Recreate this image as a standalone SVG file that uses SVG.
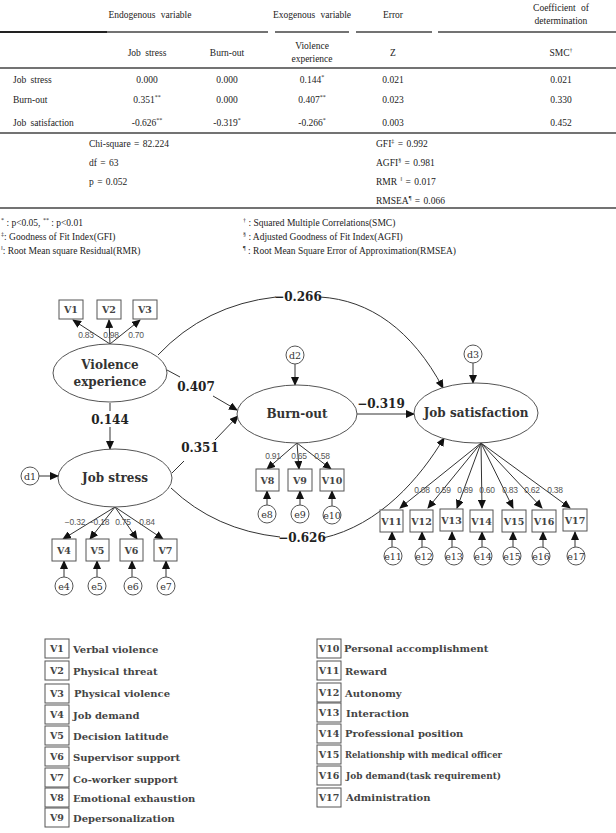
<svg xmlns="http://www.w3.org/2000/svg" width="616" height="833" viewBox="0 0 616 833">
<style>
.t{font-family:"Liberation Serif",serif;font-size:9.5px;fill:#222}
.m{text-anchor:middle}
.sup{font-size:6px}
.hl{stroke:#444;stroke-width:1.5;fill:none}
.lat{fill:#fff;stroke:#555;stroke-width:1}
.latt{font-family:"DejaVu Serif",serif;font-size:12px;font-weight:bold;fill:#333;text-anchor:middle}
.box{fill:#fff;stroke:#555;stroke-width:1}
.bt{font-family:"DejaVu Serif",serif;font-size:9.5px;font-weight:bold;fill:#444;text-anchor:middle}
.err{fill:#fff;stroke:#555;stroke-width:1}
.et{font-family:"DejaVu Serif",serif;font-size:9.5px;fill:#333;text-anchor:middle}
.ld{font-family:"Liberation Sans",sans-serif;font-size:8.5px;fill:#555;text-anchor:middle;letter-spacing:-0.2px}
.pc{font-family:"DejaVu Serif",serif;font-size:12px;font-weight:bold;fill:#222}
.c{stroke:#333;stroke-width:1;fill:none}
.a{marker-end:url(#ah)}
.lg{font-family:"DejaVu Serif",serif;font-size:10px;font-weight:bold;fill:#444}
</style>
<defs>
<marker id="ah" markerUnits="userSpaceOnUse" markerWidth="9" markerHeight="8" refX="8" refY="4" orient="auto">
<path d="M0,0 L9,4 L0,8 z" fill="#111"/>
</marker>
</defs>
<rect width="616" height="833" fill="#fff"/>

<g id="table">
<text class="t m" x="150" y="18" word-spacing="3">Endogenous variable</text>
<text class="t m" x="312" y="18" word-spacing="3">Exogenous variable</text>
<text class="t m" x="393" y="18">Error</text>
<text class="t m" x="561" y="11" word-spacing="3">Coefficient of</text>
<text class="t m" x="561" y="24">determination</text>
<line x1="0" y1="32" x2="107" y2="32" stroke="#222" stroke-width="2"/>
<line x1="107" y1="32" x2="268" y2="32" class="hl"/>
<line x1="275" y1="32" x2="349" y2="32" class="hl"/>
<line x1="356" y1="32" x2="432" y2="32" class="hl"/>
<line x1="438" y1="32" x2="616" y2="32" class="hl"/>
<text class="t m" x="147" y="56" word-spacing="2">Job stress</text>
<text class="t m" x="227" y="56">Burn-out</text>
<text class="t m" x="312" y="49">Violence</text>
<text class="t m" x="312" y="62">experience</text>
<text class="t m" x="393" y="56">Z</text>
<text class="t m" x="561" y="56">SMC<tspan class="sup" dy="-4">†</tspan></text>
<line x1="0" y1="68" x2="616" y2="68" class="hl"/>
<text class="t" x="13" y="83" word-spacing="2">Job stress</text>
<text class="t m" x="147" y="83">0.000</text>
<text class="t m" x="227" y="83">0.000</text>
<text class="t m" x="312" y="83">0.144<tspan class="sup" dy="-4">*</tspan></text>
<text class="t m" x="393" y="83">0.021</text>
<text class="t m" x="561" y="83">0.021</text>
<text class="t" x="13" y="103">Burn-out</text>
<text class="t m" x="147" y="103">0.351<tspan class="sup" dy="-4">**</tspan></text>
<text class="t m" x="227" y="103">0.000</text>
<text class="t m" x="312" y="103">0.407<tspan class="sup" dy="-4">**</tspan></text>
<text class="t m" x="393" y="103">0.023</text>
<text class="t m" x="561" y="103">0.330</text>
<text class="t" x="13" y="126" word-spacing="2">Job satisfaction</text>
<text class="t m" x="147" y="126">-0.626<tspan class="sup" dy="-4">**</tspan></text>
<text class="t m" x="227" y="126">-0.319<tspan class="sup" dy="-4">*</tspan></text>
<text class="t m" x="312" y="126">-0.266<tspan class="sup" dy="-4">*</tspan></text>
<text class="t m" x="393" y="126">0.003</text>
<text class="t m" x="561" y="126">0.452</text>
<line x1="0" y1="133" x2="616" y2="133" class="hl"/>
<text class="t" x="89" y="147" word-spacing="1">Chi-square = 82.224</text>
<text class="t" x="89" y="166" word-spacing="1">df = 63</text>
<text class="t" x="89" y="185" word-spacing="1">p = 0.052</text>
<text class="t" x="376" y="147" word-spacing="1">GFI<tspan class="sup" dy="-4">‡</tspan><tspan dy="4"> = 0.992</tspan></text>
<text class="t" x="376" y="166" word-spacing="1">AGFI<tspan class="sup" dy="-4">§</tspan><tspan dy="4"> = 0.981</tspan></text>
<text class="t" x="376" y="185" word-spacing="1">RMR <tspan class="sup" dy="-4">‖</tspan><tspan dy="4"> = 0.017</tspan></text>
<text class="t" x="376" y="204" word-spacing="1">RMSEA<tspan class="sup" dy="-4">¶</tspan><tspan dy="4"> = 0.066</tspan></text>
<line x1="0" y1="208" x2="616" y2="208" class="hl"/>
<text class="t" x="1" y="226"><tspan class="sup" dy="-4">*</tspan><tspan dy="4"> : p&lt;0.05,  </tspan><tspan class="sup" dy="-4">**</tspan><tspan dy="4"> : p&lt;0.01</tspan></text>
<text class="t" x="1" y="240"><tspan class="sup" dy="-4">‡</tspan><tspan dy="4">: Goodness of Fit Index(GFI)</tspan></text>
<text class="t" x="1" y="254"><tspan class="sup" dy="-4">‖</tspan><tspan dy="4">: Root Mean square Residual(RMR)</tspan></text>
<text class="t" x="243" y="226"><tspan class="sup" dy="-4">†</tspan><tspan dy="4"> : Squared Multiple Correlations(SMC)</tspan></text>
<text class="t" x="243" y="240"><tspan class="sup" dy="-4">§</tspan><tspan dy="4"> : Adjusted Goodness of Fit Index(AGFI)</tspan></text>
<text class="t" x="243" y="254"><tspan class="sup" dy="-4">¶</tspan><tspan dy="4"> : Root Mean Square Error of Approximation(RMSEA)</tspan></text>
</g>

<g id="connectors">
<line class="c a" x1="110" y1="344" x2="73" y2="320"/>
<line class="c a" x1="110" y1="344" x2="109" y2="320"/>
<line class="c a" x1="110" y1="344" x2="140" y2="320"/>
<line class="c a" x1="295" y1="364" x2="295" y2="385"/>
<line class="c a" x1="473" y1="363" x2="473" y2="383"/>
<line class="c a" x1="39" y1="476" x2="58" y2="476"/>
<line class="c" x1="167" y1="370" x2="180" y2="377"/>
<line class="c a" x1="213" y1="396" x2="237" y2="410"/>
<line class="c" x1="110" y1="403" x2="110" y2="411"/>
<line class="c a" x1="110" y1="427" x2="110" y2="449"/>
<line class="c" x1="172" y1="473" x2="184" y2="461"/>
<line class="c a" x1="215" y1="440" x2="238" y2="416"/>
<line class="c a" x1="357" y1="414" x2="414" y2="414"/>
<path class="c" d="M158,355 Q205,305 276,297"/>
<path class="c a" d="M320,297 C370,300 412,330 443,388"/>
<path class="c" d="M171,488 Q215,530 280,537"/>
<path class="c a" d="M323,538 C380,525 420,478 444,438"/>
<line class="c a" x1="115" y1="507" x2="63" y2="539"/>
<line class="c a" x1="115" y1="507" x2="90" y2="539"/>
<line class="c a" x1="115" y1="507" x2="137" y2="539"/>
<line class="c a" x1="115" y1="507" x2="163" y2="539"/>
<line class="c a" x1="64" y1="577" x2="64" y2="561"/>
<line class="c a" x1="97" y1="577" x2="97" y2="561"/>
<line class="c a" x1="132" y1="577" x2="132" y2="561"/>
<line class="c a" x1="166" y1="577" x2="166" y2="561"/>
<line class="c a" x1="297" y1="443" x2="267" y2="469"/>
<line class="c a" x1="297" y1="443" x2="299" y2="469"/>
<line class="c a" x1="297" y1="443" x2="331" y2="469"/>
<line class="c a" x1="267" y1="505" x2="267" y2="491"/>
<line class="c a" x1="300" y1="505" x2="300" y2="491"/>
<line class="c a" x1="332" y1="506" x2="332" y2="491"/>
<line class="c a" x1="481" y1="443" x2="400" y2="508"/>
<line class="c a" x1="481" y1="443" x2="428" y2="508"/>
<line class="c a" x1="481" y1="443" x2="457" y2="508"/>
<line class="c a" x1="481" y1="443" x2="482" y2="508"/>
<line class="c a" x1="481" y1="443" x2="513" y2="508"/>
<line class="c a" x1="481" y1="443" x2="542" y2="508"/>
<line class="c a" x1="481" y1="443" x2="570" y2="508"/>
<line class="c a" x1="392" y1="547" x2="392" y2="532"/>
<line class="c a" x1="422" y1="547" x2="422" y2="532"/>
<line class="c a" x1="452" y1="547" x2="452" y2="532"/>
<line class="c a" x1="482" y1="547" x2="482" y2="532"/>
<line class="c a" x1="513" y1="547" x2="513" y2="532"/>
<line class="c a" x1="543" y1="547" x2="543" y2="532"/>
<line class="c a" x1="575" y1="547" x2="575" y2="532"/>
<text class="pc" x="196" y="391" text-anchor="middle">0.407</text>
<text class="pc" x="110" y="424" text-anchor="middle">0.144</text>
<text class="pc" x="200" y="452" text-anchor="middle">0.351</text>
<text class="pc" x="381" y="408" text-anchor="middle">−0.319</text>
<text class="pc" x="298" y="301" text-anchor="middle">−0.266</text>
<text class="pc" x="302" y="542" text-anchor="middle">−0.626</text>
<text class="ld" x="86" y="338">0.83</text>
<text class="ld" x="111" y="338">0.98</text>
<text class="ld" x="136" y="338">0.70</text>
<text class="ld" x="75" y="525">−0.32</text>
<text class="ld" x="99" y="525">−0.18</text>
<text class="ld" x="123" y="525">0.75</text>
<text class="ld" x="147" y="525">0.84</text>
<text class="ld" x="273" y="459">0.91</text>
<text class="ld" x="299" y="459">0.65</text>
<text class="ld" x="322" y="459">0.58</text>
<text class="ld" x="422" y="493">0.08</text>
<text class="ld" x="443" y="493">0.59</text>
<text class="ld" x="465" y="493">0.89</text>
<text class="ld" x="487" y="493">0.60</text>
<text class="ld" x="510" y="493">0.83</text>
<text class="ld" x="532" y="493">0.62</text>
<text class="ld" x="555" y="493">0.38</text>
</g>

<g id="violence"><ellipse class="lat" cx="110" cy="373" rx="57" ry="29"/><text class="latt" x="110" y="369">Violence</text><text class="latt" x="110" y="386">experience</text></g>
<g id="burnout"><ellipse class="lat" cx="297" cy="414" rx="60" ry="29"/><text class="latt" x="297" y="418">Burn-out</text></g>
<g id="jobsat"><ellipse class="lat" cx="476" cy="413" rx="62" ry="30"/><text class="latt" x="476" y="417">Job satisfaction</text></g>
<g id="jobstress"><ellipse class="lat" cx="115" cy="478" rx="57" ry="29"/><text class="latt" x="115" y="482">Job stress</text></g>

<g id="d1"><circle class="err" cx="30" cy="476" r="9"/><text class="et" x="30" y="479.5">d1</text></g>
<g id="d2"><circle class="err" cx="295" cy="355" r="9"/><text class="et" x="295" y="358.5">d2</text></g>
<g id="d3"><circle class="err" cx="473" cy="354" r="9"/><text class="et" x="473" y="357.5">d3</text></g>

<g id="V1"><rect class="box" x="59" y="300" width="24" height="19"/><text class="bt" x="71" y="313">V1</text></g>
<g id="V2"><rect class="box" x="97" y="300" width="24" height="19"/><text class="bt" x="109" y="313">V2</text></g>
<g id="V3"><rect class="box" x="133" y="300" width="24" height="19"/><text class="bt" x="145" y="313">V3</text></g>
<g id="V4"><rect class="box" x="52" y="539" width="24" height="22"/><text class="bt" x="64" y="554">V4</text></g>
<g id="V5"><rect class="box" x="86" y="539" width="23" height="22"/><text class="bt" x="97.5" y="554">V5</text></g>
<g id="V6"><rect class="box" x="120" y="539" width="23" height="22"/><text class="bt" x="131.5" y="554">V6</text></g>
<g id="V7"><rect class="box" x="154" y="539" width="23" height="22"/><text class="bt" x="165.5" y="554">V7</text></g>
<g id="V8"><rect class="box" x="256" y="469" width="23" height="22"/><text class="bt" x="267.5" y="484">V8</text></g>
<g id="V9"><rect class="box" x="288" y="469" width="24" height="22"/><text class="bt" x="300" y="484">V9</text></g>
<g id="V10"><rect class="box" x="320" y="469" width="24" height="22"/><text class="bt" x="332" y="484">V10</text></g>
<g id="V11"><rect class="box" x="380" y="510" width="23" height="22"/><text class="bt" x="391.5" y="525">V11</text></g>
<g id="V12"><rect class="box" x="410" y="510" width="23" height="22"/><text class="bt" x="421.5" y="525">V12</text></g>
<g id="V13"><rect class="box" x="440" y="509" width="23" height="22"/><text class="bt" x="451.5" y="524">V13</text></g>
<g id="V14"><rect class="box" x="470" y="510" width="23" height="22"/><text class="bt" x="481.5" y="525">V14</text></g>
<g id="V15"><rect class="box" x="502" y="510" width="24" height="22"/><text class="bt" x="514" y="525">V15</text></g>
<g id="V16"><rect class="box" x="532" y="510" width="24" height="22"/><text class="bt" x="544" y="525">V16</text></g>
<g id="V17"><rect class="box" x="563" y="509" width="24" height="22"/><text class="bt" x="575" y="524">V17</text></g>

<g id="e4"><circle class="err" cx="64" cy="586" r="9"/><text class="et" x="64" y="589.5">e4</text></g>
<g id="e5"><circle class="err" cx="97" cy="586" r="9"/><text class="et" x="97" y="589.5">e5</text></g>
<g id="e6"><circle class="err" cx="133" cy="586" r="9"/><text class="et" x="133" y="589.5">e6</text></g>
<g id="e7"><circle class="err" cx="166" cy="586" r="9"/><text class="et" x="166" y="589.5">e7</text></g>
<g id="e8"><circle class="err" cx="267" cy="514" r="9"/><text class="et" x="267" y="517.5">e8</text></g>
<g id="e9"><circle class="err" cx="300" cy="514" r="9"/><text class="et" x="300" y="517.5">e9</text></g>
<g id="e10"><circle class="err" cx="332" cy="515" r="9"/><text class="et" x="332" y="518.5">e10</text></g>
<g id="e11"><circle class="err" cx="393" cy="556" r="9"/><text class="et" x="393" y="559.5">e11</text></g>
<g id="e12"><circle class="err" cx="424" cy="556" r="9"/><text class="et" x="424" y="559.5">e12</text></g>
<g id="e13"><circle class="err" cx="454" cy="556" r="9"/><text class="et" x="454" y="559.5">e13</text></g>
<g id="e14"><circle class="err" cx="483" cy="556" r="9"/><text class="et" x="483" y="559.5">e14</text></g>
<g id="e15"><circle class="err" cx="512" cy="556" r="9"/><text class="et" x="512" y="559.5">e15</text></g>
<g id="e16"><circle class="err" cx="541" cy="556" r="9"/><text class="et" x="541" y="559.5">e16</text></g>
<g id="e17"><circle class="err" cx="576" cy="556" r="9"/><text class="et" x="576" y="559.5">e17</text></g>

<g id="legend">
<rect class="box" x="45" y="639" width="24" height="19"/><text class="bt" x="57" y="652">V1</text><text class="lg" x="73" y="653">Verbal violence</text>
<rect class="box" x="45" y="661" width="24" height="19"/><text class="bt" x="57" y="674">V2</text><text class="lg" x="73" y="675">Physical threat</text>
<rect class="box" x="45" y="684" width="24" height="19"/><text class="bt" x="57" y="697">V3</text><text class="lg" x="74" y="697">Physical violence</text>
<rect class="box" x="45" y="705" width="24" height="19"/><text class="bt" x="57" y="718">V4</text><text class="lg" x="73" y="719">Job demand</text>
<rect class="box" x="45" y="726" width="24" height="19"/><text class="bt" x="57" y="739">V5</text><text class="lg" x="73" y="740">Decision latitude</text>
<rect class="box" x="45" y="747" width="24" height="19"/><text class="bt" x="57" y="760">V6</text><text class="lg" x="73" y="761">Supervisor support</text>
<rect class="box" x="45" y="768" width="24" height="19"/><text class="bt" x="57" y="781">V7</text><text class="lg" x="73" y="783">Co-worker support</text>
<rect class="box" x="45" y="788" width="24" height="19"/><text class="bt" x="57" y="801">V8</text><text class="lg" x="73" y="802">Emotional exhaustion</text>
<rect class="box" x="45" y="808" width="24" height="19"/><text class="bt" x="57" y="821">V9</text><text class="lg" x="73" y="822">Depersonalization</text>
<rect class="box" x="317" y="639" width="24" height="19"/><text class="bt" x="329" y="652">V10</text><text class="lg" x="344" y="652">Personal accomplishment</text>
<rect class="box" x="317" y="661" width="24" height="19"/><text class="bt" x="329" y="674">V11</text><text class="lg" x="345" y="675">Reward</text>
<rect class="box" x="317" y="683" width="24" height="19"/><text class="bt" x="329" y="696">V12</text><text class="lg" x="345" y="697">Autonomy</text>
<rect class="box" x="317" y="703" width="24" height="19"/><text class="bt" x="329" y="716">V13</text><text class="lg" x="346" y="717">Interaction</text>
<rect class="box" x="317" y="724" width="24" height="19"/><text class="bt" x="329" y="737">V14</text><text class="lg" x="345" y="737">Professional position</text>
<rect class="box" x="317" y="745" width="24" height="19"/><text class="bt" x="329" y="758">V15</text><text class="lg" x="345" y="758" textLength="157" lengthAdjust="spacingAndGlyphs">Relationship with medical officer</text>
<rect class="box" x="317" y="766" width="24" height="19"/><text class="bt" x="329" y="779">V16</text><text class="lg" x="346" y="779" textLength="155" lengthAdjust="spacingAndGlyphs">Job demand(task requirement)</text>
<rect class="box" x="317" y="788" width="24" height="19"/><text class="bt" x="329" y="801">V17</text><text class="lg" x="346" y="801">Administration</text>
</g>
</svg>
